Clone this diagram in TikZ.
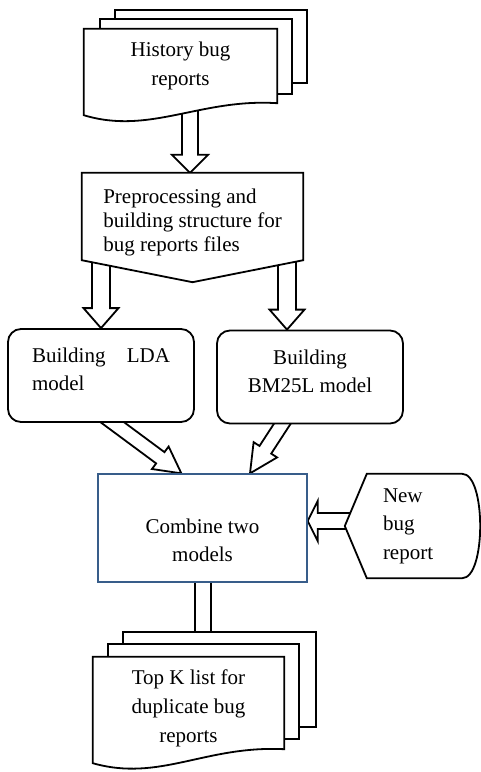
\documentclass[tikz,border=0pt]{standalone}
\usepackage{fontspec}
\setmainfont{Liberation Serif}
\usetikzlibrary{calc}
\pgfdeclarelayer{arr}
\pgfdeclarelayer{shp}
\pgfsetlayers{arr,shp,main}
\definecolor{combc}{RGB}{56,93,138}
\newcommand\upstrut[1]{\rule{0pt}{#1}}
\newcommand\dnstrut[1]{\rule[-#1]{0pt}{#1}}
% block arrow: start, end, shaft half width, head half width, head length
\newcommand\barrow[5]{%
  \draw[arrstyle] let \p1=#1, \p2=#2, \n1={atan2(\y2-\y1,\x2-\x1)}, \n2={veclen(\x2-\x1,\y2-\y1)} in
    ($(\p1)+(\n1+90:#3)$) -- ($(\p1)+(\n1:\n2-#5)+(\n1+90:#3)$) -- ($(\p1)+(\n1:\n2-#5)+(\n1+90:#4)$)
    -- (\p2) -- ($(\p1)+(\n1:\n2-#5)+(\n1-90:#4)$) -- ($(\p1)+(\n1:\n2-#5)+(\n1-90:#3)$)
    -- ($(\p1)+(\n1-90:#3)$) -- cycle;}
\begin{document}
\begin{tikzpicture}[x=1pt,y=-1pt,
  outl/.style={draw=black, line width=1.8pt, fill=white, line join=miter},
  arrstyle/.style={draw=black, line width=1.8pt, fill=white, line join=miter},
  txt/.style={inner sep=0pt, font=\fontsize{21}{28}\selectfont},
  rbox/.style={draw=black, line width=1.8pt, fill=white, rounded corners=13pt,
    minimum width=186pt, minimum height=93pt, inner sep=0pt, font=\fontsize{21}{28}\selectfont}]
\useasboundingbox (0,0) rectangle (481,772);

% ---------- nodes ----------
\node[txt, minimum width=193pt, minimum height=74pt, align=center, font=\fontsize{21}{29}\selectfont] (hist) at (180.5,66) {History bug\\reports};
\node[txt, minimum width=221pt, minimum height=87pt, align=left, font=\fontsize{21}{24}\selectfont] (pre) at (192.5,216.5) {\upstrut{26.3pt}Preprocessing and\\building structure for\\bug reports files};
\node[rbox, text width=138pt, align=left] (lda) at (101,375.5) {Building\hfill LDA\\model\dnstrut{12pt}};
\node[rbox, align=center] (bm) at (310,377) {Building\\BM25L model\dnstrut{12pt}};
\node[draw=combc, line width=1.3pt, fill=white, minimum width=209pt, minimum height=108pt, inner sep=0pt, align=center, font=\fontsize{21}{28}\selectfont] (comb) at (202.5,528) {\upstrut{38.3pt}Combine two\\models};
\node[txt, minimum width=95pt, minimum height=104pt, text width=63pt, align=left, font=\fontsize{21}{28.5}\selectfont] (newb) at (414.5,526) {New\\bug\\report};
\node[txt, minimum width=191pt, minimum height=92pt, align=center, font=\fontsize{21}{29}\selectfont] (topk) at (188.5,703) {\upstrut{24.5pt}Top K list for\\duplicate bug\\reports};

% ---------- shapes ----------
\begin{pgfonlayer}{shp}
  \draw[outl] ($(hist.north west)+(31,-19)$) rectangle ($(hist.north east)+(30,54)$);
  \draw[outl] ($(hist.north west)+(16,-10)$) rectangle ($(hist.north east)+(15,65)$);
  \draw[outl] (hist.north west) -- (hist.north east) -- (hist.south east)
     .. controls +(-77,-5) and +(66,20) .. ($(hist.south west)+(0,12)$) -- cycle;
  \draw[outl] (pre.south west) -- (pre.north west) -- (pre.north east) -- (pre.south east)
     -- ($(pre.south)+(0,22)$) -- cycle;
  \draw[outl] ($(newb.west)+(-22,0)$) -- (newb.north west) -- (newb.north east)
     .. controls +(24,0) and +(24,0) .. (newb.south east) -- (newb.south west) -- cycle;
  \draw[outl] ($(topk.north west)+(30,-25)$) rectangle ($(topk.north east)+(32,70)$);
  \draw[outl] ($(topk.north west)+(15,-13)$) rectangle ($(topk.north east)+(15,82)$);
  \draw[outl] (topk.north west) -- (topk.north east) -- (topk.south east)
     .. controls +(-79,-4) and +(67,19) .. ($(topk.south west)+(0,14)$) -- cycle;
\end{pgfonlayer}

% ---------- connectors ----------
\begin{pgfonlayer}{arr}
  \barrow{($(hist.center)+(9.5,0)$)}{($(pre.north)+(-2.5,0)$)}{8pt}{18pt}{18pt}
  \barrow{($(pre.center)+(-91.5,0)$)}{(lda.north)}{9pt}{17.5pt}{20pt}
  \barrow{($(pre.center)+(94.5,0)$)}{($(bm.north)+(-23,0)$)}{9pt}{17.5pt}{20pt}
  \barrow{($(lda.south)+(-4,-12)$)}{($(comb.north west)+(84,0)$)}{7pt}{14pt}{26pt}
  \barrow{($(bm.south)+(-19,-14)$)}{($(comb.north)+(47.5,0)$)}{7pt}{14pt}{28pt}
  \barrow{($(newb.west)+(13,-5)$)}{($(comb.east)+(0,-7)$)}{8pt}{20pt}{10pt}
  \barrow{($(comb.center)+(0.5,0)$)}{($(topk.north)+(14.5,3)$)}{8pt}{18pt}{18pt}
\end{pgfonlayer}
\end{tikzpicture}
\end{document}
